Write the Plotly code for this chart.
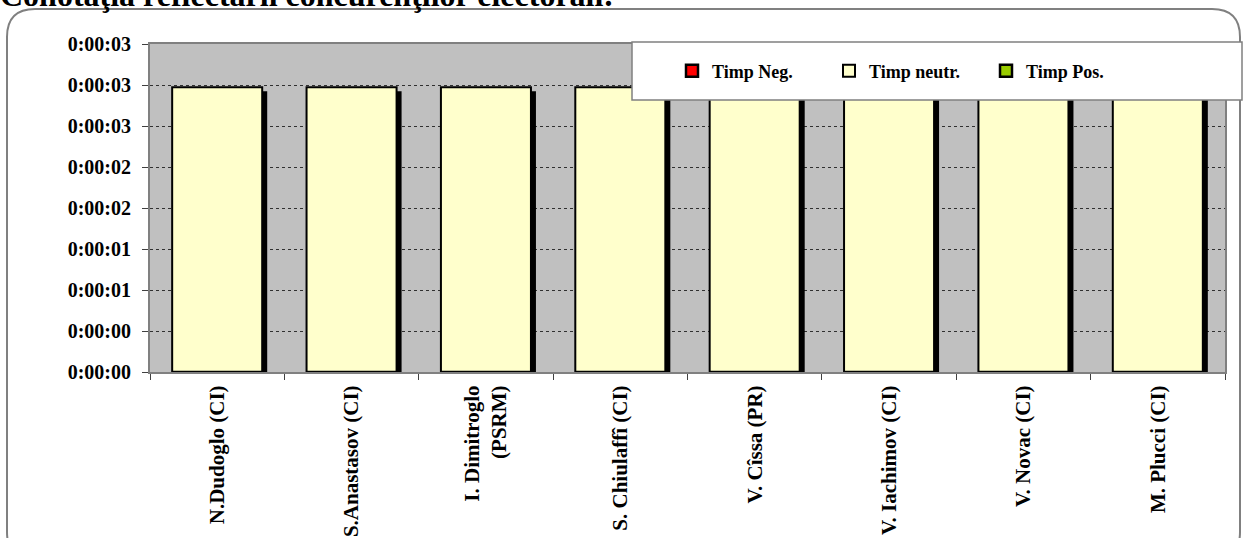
import plotly.graph_objects as go

# ---- data ----
categories = ["N.Dudoglo (CI)", "S.Anastasov (CI)", "I. Dimitroglo<br>(PSRM)",
              "S. Chiulaffî (CI)", "V. Cîssa (PR)", "V. Iachimov (CI)",
              "V. Novac (CI)", "M. Plucci (CI)"]
timp_neg = [0, 0, 0, 0, 0, 0, 0, 0]          # seconds
timp_neutr = [3, 3, 3, 3, 3, 3, 3, 3]        # seconds
timp_pos = [0, 0, 0, 0, 0, 0, 0, 0]          # seconds
tick_step = 0.432                            # seconds (Excel major unit)
tick_labels = ["0:00:00", "0:00:00", "0:00:01", "0:00:01", "0:00:02",
               "0:00:02", "0:00:03", "0:00:03", "0:00:03"]

# ---- geometry (pixels) ----
W, H = 1245, 538
L, R, T, B = 150, 1225, 44, 372
pw, ph = R - L, B - T
ymax = tick_step * (len(tick_labels) - 1)
tickvals = [i * tick_step for i in range(len(tick_labels))]

def px(x):
    return (x - L) / pw

def py(y):
    return (B - y) / ph

cat_px = pw / len(categories)
bar_w = 0.67
shift_x = 5 / cat_px
shift_y = 4 / ph * ymax

FONT = "Liberation Serif"

fig = go.Figure()
# shadow of neutral bars
fig.add_trace(go.Bar(
    x=categories, y=[v - shift_y for v in timp_neutr],
    width=bar_w, offset=-bar_w / 2 + shift_x,
    marker=dict(color="black", line=dict(width=0)),
    showlegend=False, hoverinfo="skip"))
fig.add_trace(go.Bar(
    x=categories, y=timp_neg, name="Timp Neg.", width=bar_w,
    marker=dict(color="#FF0000", line=dict(color="black", width=2.5))))
fig.add_trace(go.Bar(
    x=categories, y=timp_neutr, name="Timp neutr.", width=bar_w,
    marker=dict(color="#FFFFCC", line=dict(color="black", width=2))))
fig.add_trace(go.Bar(
    x=categories, y=timp_pos, name="Timp Pos.", width=bar_w,
    marker=dict(color="#99CC00", line=dict(color="black", width=2.5))))

# rounded outer border
x0, y0, x1, y1, r = px(7), py(9), px(1240), py(560), 28
rx, ry = r / pw, r / ph
path = (f"M {x0+rx},{y0} L {x1-rx},{y0} Q {x1},{y0} {x1},{y0-ry} "
        f"L {x1},{y1+ry} Q {x1},{y1} {x1-rx},{y1} L {x0+rx},{y1} "
        f"Q {x0},{y1} {x0},{y1+ry} L {x0},{y0-ry} Q {x0},{y0} {x0+rx},{y0} Z")

shapes = [
    dict(type="path", xref="paper", yref="paper", path=path,
         line=dict(color="#808080", width=2), fillcolor="rgba(0,0,0,0)",
         layer="below"),
    dict(type="rect", xref="paper", yref="paper",
         x0=px(632), x1=px(1242), y0=py(42), y1=py(100),
         fillcolor="white", line=dict(color="#808080", width=1.5),
         layer="above"),
]

fig.update_layout(
    width=W, height=H,
    margin=dict(l=L, r=W - R, t=T, b=H - B, autoexpand=False),
    paper_bgcolor="white", plot_bgcolor="#C0C0C0",
    barmode="overlay", bargap=0.33,
    font=dict(family=FONT, color="black"),
    shapes=shapes,
    showlegend=True,
    legend=dict(orientation="h", xref="paper", yref="paper",
                x=px(672), y=py(71), xanchor="left", yanchor="middle",
                bgcolor="rgba(0,0,0,0)", itemwidth=30,
                entrywidthmode="pixels", entrywidth=112,
                font=dict(family=FONT, size=18, weight="bold")),
    annotations=[dict(text="Conotaţia reflectării concurenţilor electorali:",
                      xref="paper", yref="paper", x=px(-2), y=py(15),
                      xanchor="left", yanchor="bottom", showarrow=False,
                      font=dict(family=FONT, size=32, weight="bold"))],
)

fig.update_xaxes(
    type="category", tickangle=-90, tickson="boundaries",
    ticks="outside", ticklen=6, tickcolor="#404040",
    ticklabelstandoff=3, automargin=False,
    showline=True, linecolor="#808080", linewidth=2, mirror=True,
    showgrid=False,
    tickfont=dict(family=FONT, size=21, weight="bold"))
fig.update_yaxes(
    range=[0, ymax], tickvals=tickvals, ticktext=tick_labels,
    ticks="outside", ticklen=6, tickcolor="#404040",
    ticklabelstandoff=7, automargin=False,
    showline=True, linecolor="#808080", linewidth=2, mirror=True,
    showgrid=True, gridcolor="#303030", gridwidth=1, griddash="dot",
    zeroline=False,
    tickfont=dict(family=FONT, size=20, weight="bold"))

fig.write_html("out.html",
               config={"displayModeBar": False},
               post_script="document.body.style.margin='0';"
                           "document.body.style.overflow='hidden';")
